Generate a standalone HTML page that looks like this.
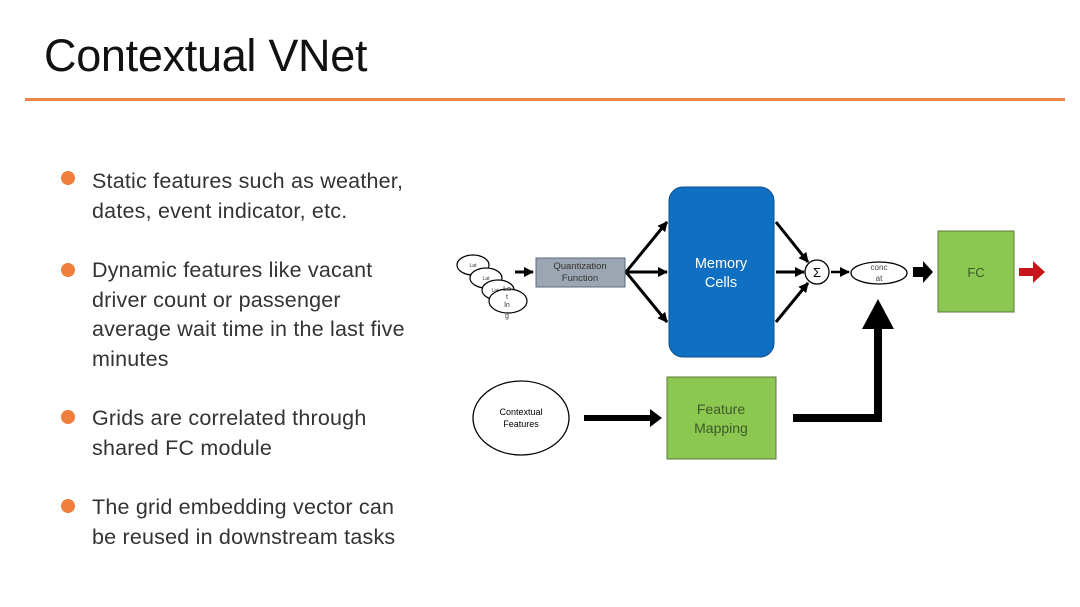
<!DOCTYPE html>
<html><head><meta charset="utf-8"><style>
html,body{margin:0;padding:0;background:#fff;}
body{width:1080px;height:607px;position:relative;overflow:hidden;font-family:"Liberation Sans",sans-serif;}
.t{position:absolute;left:44px;top:30px;font-size:45px;color:#111;letter-spacing:-0.3px;}
.hr{position:absolute;left:25px;top:98px;width:1040px;height:3px;background:#e8874a;}
.b{position:absolute;left:92px;font-size:21.5px;line-height:29.5px;color:#333;letter-spacing:0.2px;}
.d{position:absolute;left:61px;width:14px;height:14px;border-radius:50%;background:#ef7d3c;}
</style></head><body>
<div class="t">Contextual VNet</div>
<div class="hr"></div>
<div class="d" style="top:171px"></div>
<div class="b" style="top:167px">Static features such as weather,<br>dates, event indicator, etc.</div>
<div class="d" style="top:263px"></div>
<div class="b" style="top:256px">Dynamic features like vacant<br>driver count or passenger<br>average wait time in the last five<br>minutes</div>
<div class="d" style="top:410px"></div>
<div class="b" style="top:404px">Grids are correlated through<br>shared FC module</div>
<div class="d" style="top:499px"></div>
<div class="b" style="top:493px">The grid embedding vector can<br>be reused in downstream tasks</div>
<svg width="1080" height="607" style="position:absolute;left:0;top:0" font-family="Liberation Sans, sans-serif">
<defs><marker id="a" markerUnits="userSpaceOnUse" markerWidth="10" markerHeight="10" refX="9" refY="5" orient="auto"><path d="M0,0L10,5L0,10z" fill="#000"/></marker></defs>
<g fill="#fff" stroke="#000" stroke-width="1.2">
<ellipse cx="473" cy="265" rx="16" ry="10"/>
<ellipse cx="486" cy="278" rx="16" ry="10"/>
<ellipse cx="498" cy="290" rx="16" ry="10"/>
<ellipse cx="508" cy="301" rx="19" ry="12"/>
</g>
<g font-size="5" fill="#333" text-anchor="middle"><text x="473" y="267">Lat</text><text x="486" y="280">Lat</text><text x="495" y="292">Lat</text></g>
<g font-size="7" fill="#333" text-anchor="middle"><text x="507" y="291">La</text><text x="507" y="299">t</text><text x="507" y="307">ln</text><text x="507" y="318">g</text></g>
<line x1="515" y1="272" x2="533" y2="272" stroke="#000" stroke-width="3" marker-end="url(#a)"/>
<rect x="536" y="258" width="89" height="29" fill="#9ca5b2" stroke="#5b6c82"/>
<text x="580" y="269" font-size="9.5" fill="#333" text-anchor="middle">Quantization</text>
<text x="580" y="281" font-size="9.5" fill="#333" text-anchor="middle">Function</text>
<g stroke="#000" stroke-width="3" marker-end="url(#a)">
<line x1="626" y1="272" x2="667" y2="222"/><line x1="626" y1="272" x2="667" y2="272"/><line x1="626" y1="272" x2="667" y2="322"/>
<line x1="776" y1="222" x2="808" y2="262"/><line x1="776" y1="272" x2="804" y2="272"/><line x1="776" y1="322" x2="808" y2="283"/>
<line x1="831" y1="272" x2="849" y2="272" stroke-width="2.5"/>
</g>
<rect x="669" y="187" width="105" height="170" rx="14" fill="#0f6fc2" stroke="#0a4f90"/>
<text x="721" y="268" font-size="14.5" fill="#fff" text-anchor="middle">Memory</text>
<text x="721" y="287" font-size="14.5" fill="#fff" text-anchor="middle">Cells</text>
<circle cx="817" cy="272" r="12" fill="#fff" stroke="#000" stroke-width="1.3"/>
<text x="817" y="277" font-size="13" text-anchor="middle">Σ</text>
<ellipse cx="879" cy="273" rx="28" ry="11" fill="#fff" stroke="#000" stroke-width="1.3"/>
<text x="879" y="270" font-size="8" fill="#444" text-anchor="middle">conc</text>
<text x="879" y="281" font-size="8" fill="#444" text-anchor="middle">at</text>
<path d="M913,267h10v-6l10,11l-10,11v-6h-10z" fill="#000"/>
<rect x="938" y="231" width="76" height="81" fill="#8cc751" stroke="#5a7a3a"/>
<text x="976" y="277" font-size="13" fill="#3d5a2a" text-anchor="middle">FC</text>
<path d="M1019,268h14v-7l12,11l-12,11v-7h-14z" fill="#c8171c"/>
<ellipse cx="521" cy="418" rx="48" ry="37" fill="#fff" stroke="#000" stroke-width="1.3"/>
<text x="521" y="415" font-size="9" text-anchor="middle">Contextual</text>
<text x="521" y="427" font-size="9" text-anchor="middle">Features</text>
<path d="M584,415h66v-6l12,9l-12,9v-6h-66z" fill="#000"/>
<rect x="667" y="377" width="109" height="82" fill="#8cc751" stroke="#5a7a3a"/>
<text x="721" y="414" font-size="14" fill="#3d5a2a" text-anchor="middle">Feature</text>
<text x="721" y="433" font-size="14" fill="#3d5a2a" text-anchor="middle">Mapping</text>
<path d="M793,414h81v-86h8v94h-89z" fill="#000"/>
<path d="M862,329l16,-30l16,30z" fill="#000"/>
</svg>
</body></html>
